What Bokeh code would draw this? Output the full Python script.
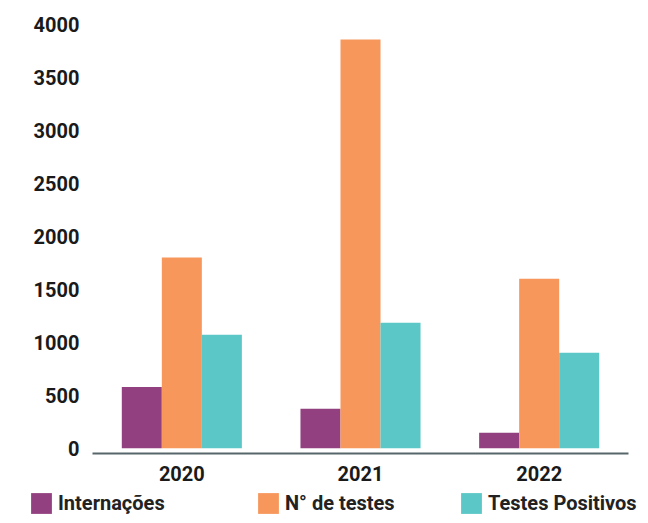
from bokeh.plotting import figure
from bokeh.layouts import column
from bokeh.models import FactorRange, Range1d, FixedTicker, Legend, LegendItem, ColumnDataSource
from bokeh.transform import dodge
from bokeh.embed import file_html
from bokeh.resources import INLINE

years = ["2020", "2021", "2022"]
internacoes = [578, 373, 146]
n_testes = [1800, 3858, 1600]
testes_positivos = [1072, 1185, 902]
y_ticks = [0, 500, 1000, 1500, 2000, 2500, 3000, 3500, 4000]
series_names = ["Internações", "N° de testes", "Testes Positivos"]
colors = ["#934080", "#F7975C", "#5BC7C7"]

source = ColumnDataSource(dict(years=years, internacoes=internacoes,
                               n_testes=n_testes, positivos=testes_positivos))

font = "Roboto"
bw = 0.224
cols = ["internacoes", "n_testes", "positivos"]
offsets = [-bw, 0, bw]

p = figure(x_range=FactorRange(*years), y_range=Range1d(-49, 4000),
           width=640, height=489,
           output_backend="svg", toolbar_location=None,
           min_border_left=92, min_border_right=12, min_border_top=24, min_border_bottom=36)
p.x_range.range_padding = 0
p.frame_align = False

for c, off, col in zip(cols, offsets, colors):
    p.vbar(x=dodge("years", off, range=p.x_range), top=c, bottom=0, width=bw,
           source=source, fill_color=col, line_color=None)

p.outline_line_color = None
p.xgrid.grid_line_color = None
p.ygrid.grid_line_color = None
p.background_fill_color = "white"

p.yaxis.ticker = FixedTicker(ticks=y_ticks)
p.yaxis.axis_line_color = None
p.yaxis.major_tick_line_color = None
p.yaxis.minor_tick_line_color = None
p.yaxis.major_tick_out = 0
p.yaxis.major_tick_in = 0
p.yaxis.major_label_standoff = 13
p.yaxis.major_label_text_font = font
p.yaxis.major_label_text_font_style = "bold"
p.yaxis.major_label_text_font_size = "20px"
p.yaxis.major_label_text_color = "#1a1a1a"

p.xaxis.axis_line_color = "#56666a"
p.xaxis.axis_line_width = 2
p.xaxis.major_tick_line_color = None
p.xaxis.minor_tick_line_color = None
p.xaxis.major_tick_out = 0
p.xaxis.major_tick_in = 0
p.xaxis.major_label_standoff = 12
p.xaxis.major_label_text_font = font
p.xaxis.major_label_text_font_style = "bold"
p.xaxis.major_label_text_font_size = "20px"
p.xaxis.major_label_text_color = "#1a1a1a"

# legend strip below the chart
lp = figure(x_range=FactorRange(*years), y_range=Range1d(10000, 10001),
            width=640, height=27, x_axis_type=None, y_axis_type=None,
            output_backend="svg", toolbar_location=None,
            min_border=0, min_border_left=0, min_border_right=0,
            min_border_top=0, min_border_bottom=0)
lp.frame_align = False
lp.outline_line_color = None
lp.background_fill_color = "white"

legend_renderers = []
for c, off, col in zip(cols, offsets, colors):
    r = lp.vbar(x=dodge("years", off, range=lp.x_range), top=c, bottom=0, width=bw,
                source=source, fill_color=col, line_color=None)
    legend_renderers.append(r)

legend_x = [28, 255, 458]
for name, r, lx in zip(series_names, legend_renderers, legend_x):
    leg = Legend(items=[LegendItem(label=name, renderers=[r])],
                 orientation="horizontal", location=(lx, 0),
                 glyph_width=26, glyph_height=26, label_standoff=4,
                 padding=0, margin=0, border_line_color=None, background_fill_alpha=0,
                 label_text_font=font, label_text_font_style="bold",
                 label_text_font_size="20px", label_text_color="#222222")
    lp.add_layout(leg, "center")

layout = column(p, lp, spacing=0)
open("out.html", "w").write(file_html(layout, INLINE))
